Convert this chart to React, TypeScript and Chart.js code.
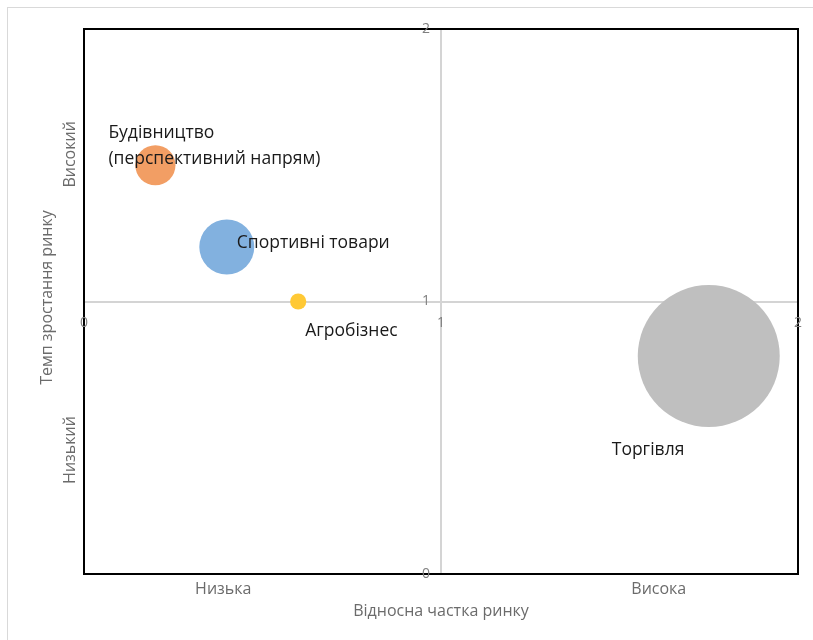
import React, { useEffect, useRef } from 'react';
import { Chart, registerables } from 'chart.js';

Chart.register(...registerables);

// ---- Data ----
const categories: string[][] = [
  ['Будівництво', '(перспективний напрям)'],
  ['Спортивні товари'],
  ['Агробізнес'],
  ['Торгівля'],
];
const marketShare = [0.2, 0.4, 0.6, 1.75];
const marketGrowth = [1.5, 1.2, 1.0, 0.8];
const bubbleSizes = [8, 15, 1.3, 100];

const xTickValues = [0, 1, 2];
const yTickValues = [0, 1, 2];
const xQuadrantLabels = ['Низька', 'Висока'];
const xQuadrantValues = [0.39, 1.61];
const yQuadrantLabels = ['Низький', 'Високий'];
const yQuadrantValues = [0.455, 1.54];
const xAxisTitle = 'Відносна частка ринку';
const yAxisTitle = 'Темп зростання ринку';

// ---- Styles ----
const bubbleColors = ['#F29E64', '#82B1DF', '#FFC935', '#BFBFBF'];
const labelOffsets = [
  [-47, -32],
  [10, -4],
  [7, 30],
  [-97, 94],
];
const MAX_RADIUS = 71;
const FONT = '"Open Sans", "Noto Sans", sans-serif';

const quadrantPlugin = {
  id: 'quadrant',
  beforeDatasetsDraw(chart: any) {
    const { ctx, chartArea: a, scales } = chart;
    const xs = scales.x;
    const ys = scales.y;
    ctx.save();
    ctx.strokeStyle = '#D4D4D4';
    ctx.lineWidth = 2;
    const cx = Math.round(xs.getPixelForValue(1));
    const cy = Math.round(ys.getPixelForValue(1));
    ctx.beginPath();
    ctx.moveTo(cx, a.top);
    ctx.lineTo(cx, a.bottom);
    ctx.moveTo(a.left, cy);
    ctx.lineTo(a.right, cy);
    ctx.stroke();
    ctx.strokeStyle = '#000000';
    ctx.lineWidth = 2;
    ctx.strokeRect(a.left, a.top, a.right - a.left, a.bottom - a.top);
    ctx.restore();
  },
  afterDatasetsDraw(chart: any) {
    const { ctx, chartArea: a, scales } = chart;
    const xs = scales.x;
    const ys = scales.y;
    const cx = xs.getPixelForValue(1);
    const cy = ys.getPixelForValue(1);
    ctx.save();
    // tick labels
    ctx.fillStyle = '#7F7F7F';
    ctx.font = `14px ${FONT}`;
    ctx.textAlign = 'center';
    ctx.textBaseline = 'middle';
    xTickValues.forEach((v) => {
      ctx.fillText(String(v), xs.getPixelForValue(v), cy + 22);
    });
    ctx.textAlign = 'right';
    yTickValues.forEach((v) => {
      ctx.fillText(String(v), cx - 11, ys.getPixelForValue(v));
    });
    // quadrant labels & axis titles
    ctx.fillStyle = '#6B6B6B';
    ctx.font = `16px ${FONT}`;
    ctx.textAlign = 'center';
    xQuadrantLabels.forEach((t, i) => {
      ctx.fillText(t, xs.getPixelForValue(xQuadrantValues[i]), a.bottom + 15);
    });
    ctx.fillText(xAxisTitle, cx, a.bottom + 37);
    yQuadrantLabels.forEach((t, i) => {
      ctx.save();
      ctx.translate(a.left - 14, ys.getPixelForValue(yQuadrantValues[i]));
      ctx.rotate(-Math.PI / 2);
      ctx.fillText(t, 0, 0);
      ctx.restore();
    });
    ctx.save();
    ctx.translate(a.left - 37, cy - 4);
    ctx.rotate(-Math.PI / 2);
    ctx.fillText(yAxisTitle, 0, 0);
    ctx.restore();
    // bubble labels
    ctx.fillStyle = '#1A1A1A';
    ctx.font = `17.5px ${FONT}`;
    ctx.textAlign = 'left';
    const meta = chart.getDatasetMeta(0);
    meta.data.forEach((el: any, i: number) => {
      const [dx, dy] = labelOffsets[i];
      categories[i].forEach((line, j) => {
        ctx.fillText(line, el.x + dx, el.y + dy + j * 26);
      });
    });
    ctx.restore();
  },
};

export default function App() {
  const ref = useRef<HTMLCanvasElement>(null);
  useEffect(() => {
    document.body.style.margin = '0';
    document.body.style.overflow = 'hidden';
    const chart = new Chart(ref.current!, {
      type: 'bubble',
      data: {
        datasets: [
          {
            data: marketShare.map((x, i) => ({
              x,
              y: marketGrowth[i],
              r: MAX_RADIUS * Math.sqrt(bubbleSizes[i] / Math.max(...bubbleSizes)),
            })),
            backgroundColor: bubbleColors,
            borderWidth: 0,
            hoverRadius: 0,
            clip: false as any,
          },
        ],
      },
      options: {
        responsive: false,
        animation: false,
        events: [],
        layout: {
          autoPadding: false,
          padding: { left: 84, top: 29, right: 15, bottom: 66 },
        },
        scales: {
          x: { type: 'linear', min: 0, max: 2, display: false },
          y: { type: 'linear', min: 0, max: 2, display: false },
        },
        plugins: {
          legend: { display: false },
          tooltip: { enabled: false },
          title: { display: false },
        },
      },
      plugins: [quadrantPlugin],
    });
    return () => chart.destroy();
  }, []);
  return (
    <div style={{ position: 'relative', width: 813, height: 640, overflow: 'hidden', background: '#fff' }}>
      <canvas ref={ref} width={813} height={640} style={{ display: 'block' }} />
      <div
        style={{
          position: 'absolute',
          left: 7,
          top: 7,
          width: 830,
          height: 700,
          border: '1px solid #D9D9D9',
          pointerEvents: 'none',
        }}
      />
    </div>
  );
}
